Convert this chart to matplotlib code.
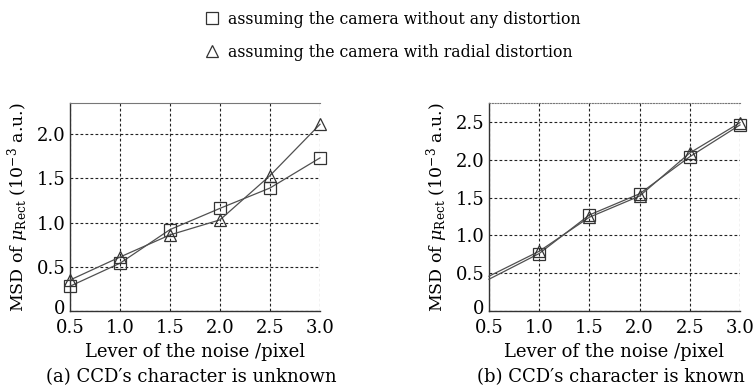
import matplotlib
matplotlib.use("Agg")
import matplotlib.pyplot as plt
from matplotlib.lines import Line2D
from matplotlib.transforms import ScaledTranslation

plt.rcParams['font.family'] = 'DejaVu Serif'
plt.rcParams['mathtext.fontset'] = 'dejavuserif'

noise = [0.5, 1.0, 1.5, 2.0, 2.5, 3.0]

# (a) CCD character unknown
a_no_dist = [0.28, 0.54, 0.92, 1.16, 1.39, 1.73]
a_radial = [0.35, 0.61, 0.86, 1.03, 1.53, 2.11]

# (b) CCD character known
b_no_dist = [0.42, 0.76, 1.27, 1.55, 2.04, 2.46]
b_radial = [0.46, 0.79, 1.24, 1.52, 2.09, 2.49]

xticks = [0.5, 1.0, 1.5, 2.0, 2.5, 3.0]
a_yticks = [0, 0.5, 1.0, 1.5, 2.0]
b_yticks = [0, 0.5, 1.0, 1.5, 2.0, 2.5]

legend_labels = ["assuming the camera without any distortion",
                 "assuming the camera with radial distortion"]
captions = ["(a) CCD\u2032s character is unknown",
            "(b) CCD\u2032s character is known"]

FS = 13
LC = '#505050'

fig = plt.figure(figsize=(7.56, 3.92), dpi=100)
ax_a = fig.add_axes([0.0926, 0.2066, 0.3307, 0.5306])
ax_b = fig.add_axes([0.6468, 0.2066, 0.3320, 0.5306])


def fmt(v):
    return '0' if v == 0 else f'{v:.1f}'


def style(ax, ymax, yticks, caption, cap_x, skip_first):
    sq, tr = (b_no_dist, b_radial) if skip_first else (a_no_dist, a_radial)
    every = slice(1, None) if skip_first else None
    ax.plot(noise, sq, color=LC, lw=0.9, marker='s', ms=8, mfc='none',
            mec='#333333', mew=0.9, markevery=every, clip_on=False, zorder=3)
    ax.plot(noise, tr, color=LC, lw=0.9, marker='^', ms=9, mfc='none',
            mec='#333333', mew=0.9, markevery=every, clip_on=False, zorder=3)
    ax.set_xlim(0.5, 3.0)
    ax.set_ylim(0, ymax)
    ax.set_xticks(xticks)
    ax.set_xticklabels([fmt(v) for v in xticks], fontsize=FS)
    ax.set_yticks(yticks)
    ax.set_yticklabels([fmt(v) for v in yticks], fontsize=FS)
    ax.tick_params(axis='x', length=0, pad=6)
    ax.tick_params(axis='y', length=0, pad=3)
    # lift the "0" label a little so it sits above the first x label
    zero = ax.get_yticklabels()[0]
    zero.set_transform(zero.get_transform() + ScaledTranslation(0, 3 / 72, fig.dpi_scale_trans))
    ax.grid(True, color='#222222', ls=(0, (2.5, 2)), lw=0.8)
    for s in ['left', 'bottom']:
        ax.spines[s].set_color('#333333')
        ax.spines[s].set_linewidth(1.0)
    ax.spines['right'].set_visible(False)
    if skip_first:
        ax.spines['top'].set_linestyle((0, (1, 1.5)))
    ax.spines['top'].set_color('#777777')
    ax.spines['top'].set_linewidth(0.8)
    ax.set_xlabel('Lever of the noise /pixel', fontsize=FS, labelpad=4)
    ax.set_ylabel(r'MSD of $\mu_{\mathrm{Rect}}$ (10$^{-3}$ a.u.)', fontsize=12.5, labelpad=4)
    fig.text(cap_x, 0.038, caption, ha='center', va='center', fontsize=FS)


style(ax_a, 2.35, a_yticks, captions[0], 0.253, False)
style(ax_b, 2.75, b_yticks, captions[1], 0.808, True)

handles = [Line2D([], [], ls='none', marker='s', ms=8, mfc='none', mec='#333333', mew=0.9),
           Line2D([], [], ls='none', marker='^', ms=9, mfc='none', mec='#333333', mew=0.9)]
fig.legend(handles, legend_labels, loc='upper left', bbox_to_anchor=(0.258, 1.0),
           frameon=False, fontsize=11.3, handlelength=0.8, handletextpad=0.6,
           labelspacing=1.0, borderaxespad=0.3)

fig.savefig('out.png', dpi=100)
